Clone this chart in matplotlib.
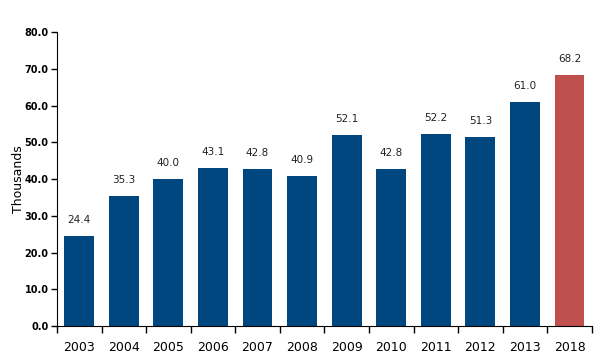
import matplotlib
matplotlib.use('Agg')
import matplotlib.pyplot as plt
import matplotlib.ticker as ticker
import numpy as np

# values
years = ['2003', '2004', '2005', '2006', '2007', '2008', '2009', '2010',
         '2011', '2012', '2013', '2018']
values = [24.4, 35.3, 40.0, 43.1, 42.8, 40.9, 52.1, 42.8, 52.2, 51.3, 61.0, 68.2]
labels = ['24.4', '35.3', '40.0', '43.1', '42.8', '40.9', '52.1', '42.8',
          '52.2', '51.3', '61.0', '68.2']

blue = '#00477F'
red = '#C0504D'
colors = [blue] * (len(years) - 1) + [red]

plt.rcParams['font.family'] = ['DejaVu Sans']

fig = plt.figure(figsize=(5.96, 3.56), dpi=100)
ax = fig.add_axes([0.0956, 0.0843, 0.8974, 0.8257])

x = np.arange(len(years))
bars = ax.bar(x, values, width=0.67, color=colors)

for b, lab in zip(bars, labels):
    ax.text(b.get_x() + b.get_width() / 2, b.get_height() + 3.0, lab,
            ha='center', va='bottom', fontsize=7.5, color='#222222')

ax.set_xlim(-0.5, len(years) - 0.5)
ax.set_ylim(0, 80)

# y axis
ax.yaxis.set_major_locator(ticker.MultipleLocator(10))
ax.yaxis.set_major_formatter(ticker.FormatStrFormatter('%.1f'))
for t in ax.get_yticklabels():
    t.set_fontweight('bold')
    t.set_fontfamily(['Liberation Sans Narrow', 'DejaVu Sans'])
    t.set_fontsize(7)
ax.tick_params(axis='y', length=4, width=1, pad=2)
ax.set_ylabel('Thousands', fontsize=9, labelpad=0)

# x axis: ticks at category boundaries, labels at centres
ax.set_xticks(np.arange(-0.5, len(years), 1.0))
ax.set_xticklabels([])
ax.set_xticks(x, minor=True)
ax.set_xticklabels(years, minor=True, fontsize=9)
ax.tick_params(axis='x', which='major', length=5, width=1, direction='out')
ax.tick_params(axis='x', which='minor', length=0, pad=11)

ax.spines['top'].set_visible(False)
ax.spines['right'].set_visible(False)

plt.savefig('out.png', dpi=100)
